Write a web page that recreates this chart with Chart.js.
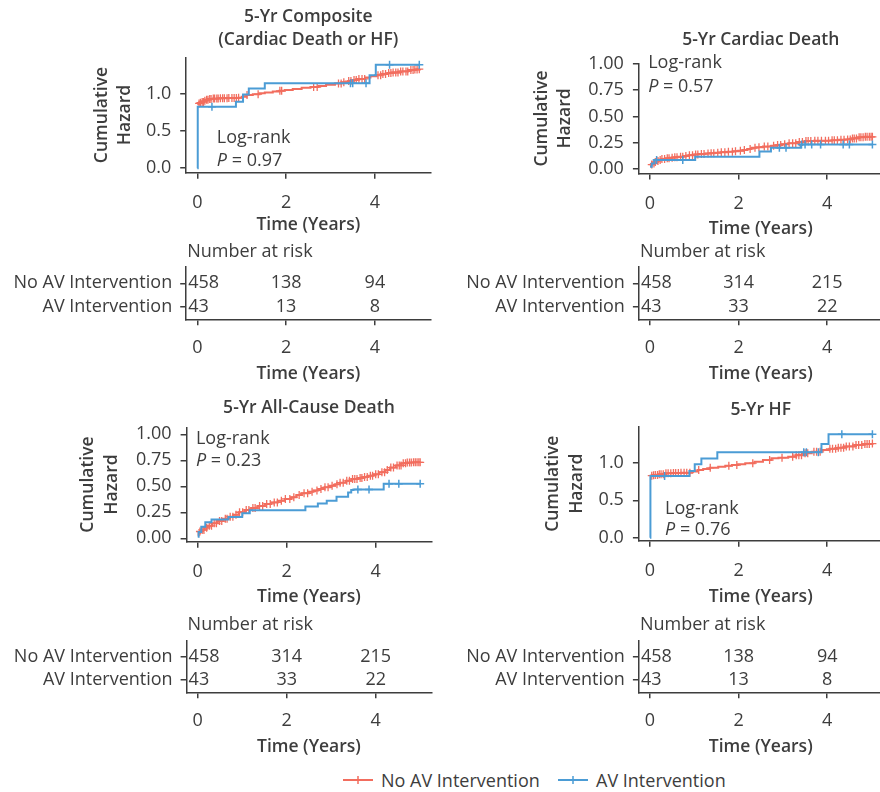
<!DOCTYPE html>
<html>
<head>
<meta charset="utf-8">
<script src="https://cdn.jsdelivr.net/npm/chart.js@4.4.1/dist/chart.umd.min.js"></script>
<style>
  html, body { margin: 0; padding: 0; background: #fff; overflow: hidden; }
  body { width: 880px; height: 792px; position: relative; font-family: 'Open Sans', sans-serif; color: #3d3d3d; }
  canvas { position: absolute; }
  .key { position: absolute; top: 768px; font-size: 18px; line-height: 24px; white-space: nowrap; }
  .key svg { position: absolute; left: 0; top: 6px; }
  .key span { position: absolute; left: 38px; top: 0; }
</style>
</head>
<body>
<canvas id="hz1" width="440" height="244" style="left:0;top:0"></canvas>
<canvas id="hz2" width="460" height="244" style="left:440px;top:0"></canvas>
<canvas id="rk1" width="440" height="153" style="left:0;top:235px"></canvas>
<canvas id="rk2" width="460" height="153" style="left:440px;top:235px"></canvas>
<canvas id="hz3" width="440" height="244" style="left:0;top:370px"></canvas>
<canvas id="hz4" width="460" height="244" style="left:440px;top:370px"></canvas>
<canvas id="rk3" width="440" height="153" style="left:0;top:608px"></canvas>
<canvas id="rk4" width="460" height="153" style="left:440px;top:608px"></canvas>

<div class="key" style="left:343px;width:200px">
  <svg width="30" height="12"><line x1="0" y1="6" x2="30" y2="6" stroke="#f26d5e" stroke-width="2"/><line x1="15" y1="2" x2="15" y2="10" stroke="#f26d5e" stroke-width="1.5"/></svg>
  <span>No AV Intervention</span>
</div>
<div class="key" style="left:558px;width:200px">
  <svg width="30" height="12"><line x1="0" y1="6" x2="30" y2="6" stroke="#4b9cd5" stroke-width="2"/><line x1="15" y1="2" x2="15" y2="10" stroke="#4b9cd5" stroke-width="1.5"/></svg>
  <span>AV Intervention</span>
</div>

<script>
const RED = '#f26d5e';
const BLUE = '#4b9cd5';
const INK = '#3d3d3d';
const FONT = "'Open Sans', sans-serif";

const xTicks = [0, 2, 4];
const riskTimes = [0, 2, 4];
const riskRows = ['AV Intervention', 'No AV Intervention'];

// 5-Yr Composite (Cardiac Death or HF)
const compTimesNo = [0, 0.03, 0.06, 0.1, 0.15, 0.2, 0.25, 0.35, 0.5, 0.7, 0.92, 1.0, 1.11, 1.25, 1.4, 1.52, 1.7, 1.85, 1.97, 2.15, 2.35, 2.55, 2.73, 2.9, 3.1, 3.25, 3.4, 3.48, 3.6, 3.78, 3.9, 4.04, 4.15, 4.28, 4.38, 4.55, 4.75, 4.9, 5.0];
const compHazNo = [0.86, 0.87, 0.88, 0.89, 0.905, 0.92, 0.93, 0.935, 0.94, 0.943, 0.947, 0.96, 0.983, 0.995, 1.008, 1.018, 1.03, 1.04, 1.05, 1.065, 1.08, 1.09, 1.103, 1.12, 1.139, 1.155, 1.17, 1.184, 1.2, 1.22, 1.235, 1.25, 1.265, 1.278, 1.286, 1.3, 1.318, 1.325, 1.33];
const compCensNo = [0.04, 0.07, 0.11, 0.14, 0.17, 0.21, 0.24, 0.28, 0.31, 0.36, 0.39, 0.44, 0.47, 0.52, 0.57, 0.61, 0.67, 0.71, 0.78, 0.83, 0.88, 0.93, 1.12, 1.37, 1.86, 1.9, 2.62, 2.7, 3.18, 3.24, 3.3, 3.41, 3.46, 3.53, 3.58, 3.64, 3.71, 3.77, 4.07, 4.13, 4.18, 4.24, 4.31, 4.36, 4.41, 4.47, 4.52, 4.58, 4.63, 4.7, 4.74, 4.81, 4.86, 4.9, 4.95, 5.0];
const compTimesAV = [0, 0.01, 0.87, 1.03, 1.16, 1.52, 3.88, 4.02, 5.0];
const compHazAV = [0, 0.826, 0.893, 0.99, 1.07, 1.14, 1.25, 1.39, 1.39];
const compCensAV = [0.33, 3.45, 3.5, 3.8, 4.33, 5.0];
const riskCompNo = [458, 138, 94];
const riskCompAV = [43, 13, 8];

// 5-Yr Cardiac Death
const cardTimesNo = [0, 0.02, 0.05, 0.1, 0.15, 0.2, 0.26, 0.35, 0.45, 0.55, 0.63, 0.75, 0.87, 1.0, 1.1, 1.25, 1.35, 1.46, 1.6, 1.75, 1.88, 1.99, 2.1, 2.2, 2.29, 2.4, 2.55, 2.74, 2.85, 2.98, 3.12, 3.3, 3.49, 3.7, 3.94, 4.1, 4.25, 4.4, 4.55, 4.7, 4.85, 5.02];
const cardHazNo = [0.03, 0.04, 0.05, 0.065, 0.075, 0.083, 0.093, 0.1, 0.105, 0.11, 0.115, 0.122, 0.13, 0.137, 0.142, 0.146, 0.149, 0.153, 0.158, 0.163, 0.168, 0.172, 0.18, 0.19, 0.2, 0.205, 0.212, 0.22, 0.228, 0.235, 0.243, 0.255, 0.265, 0.267, 0.268, 0.272, 0.276, 0.28, 0.29, 0.3, 0.305, 0.305];
const cardCensNo = [0.04, 0.09, 0.12, 0.18, 0.23, 0.27, 0.33, 0.39, 0.43, 0.5, 0.56, 0.61, 0.69, 0.74, 0.81, 0.89, 0.96, 1.03, 1.08, 1.16, 1.22, 1.31, 1.38, 1.44, 1.53, 1.61, 1.69, 1.77, 1.86, 1.93, 2.04, 2.13, 2.26, 2.37, 2.46, 2.58, 2.66, 2.79, 2.88, 2.95, 3.04, 3.14, 3.22, 3.29, 3.37, 3.44, 3.52, 3.57, 3.63, 3.72, 3.79, 3.87, 3.96, 4.03, 4.11, 4.16, 4.23, 4.31, 4.38, 4.46, 4.52, 4.57, 4.61, 4.66, 4.72, 4.76, 4.81, 4.86, 4.9, 4.95, 4.99, 5.02];
const cardTimesAV = [0, 0.04, 0.1, 1.02, 2.47, 2.73, 3.4, 5.02];
const cardHazAV = [0.02, 0.05, 0.083, 0.115, 0.165, 0.2, 0.233, 0.233];
const cardCensAV = [0.15, 0.74, 2.92, 3.07, 3.42, 3.5, 3.65, 3.85, 4.36, 4.5, 5.02];
const riskDeathNo = [458, 314, 215];
const riskDeathAV = [43, 33, 22];

// 5-Yr All-Cause Death
const allTimesNo = [0, 0.02, 0.05, 0.09, 0.15, 0.22, 0.32, 0.45, 0.58, 0.69, 0.8, 0.92, 1.06, 1.2, 1.35, 1.51, 1.65, 1.8, 1.96, 2.1, 2.22, 2.34, 2.5, 2.6, 2.71, 2.85, 2.97, 3.09, 3.2, 3.33, 3.46, 3.6, 3.72, 3.83, 3.95, 4.08, 4.21, 4.32, 4.45, 4.58, 4.7, 4.85, 5.0];
const allHazNo = [0.03, 0.05, 0.065, 0.08, 0.1, 0.12, 0.144, 0.165, 0.188, 0.208, 0.225, 0.25, 0.272, 0.29, 0.31, 0.33, 0.345, 0.36, 0.378, 0.395, 0.415, 0.433, 0.448, 0.46, 0.474, 0.49, 0.505, 0.519, 0.535, 0.552, 0.57, 0.58, 0.59, 0.602, 0.615, 0.635, 0.657, 0.68, 0.7, 0.721, 0.728, 0.73, 0.73];
const allCensNo = [0.05, 0.1, 0.14, 0.2, 0.26, 0.31, 0.37, 0.42, 0.49, 0.54, 0.62, 0.66, 0.73, 0.79, 0.86, 0.94, 1.01, 1.09, 1.15, 1.24, 1.29, 1.39, 1.46, 1.55, 1.63, 1.72, 1.79, 1.88, 1.97, 2.07, 2.16, 2.28, 2.39, 2.47, 2.57, 2.68, 2.77, 2.86, 2.93, 3.02, 3.13, 3.2, 3.27, 3.35, 3.41, 3.48, 3.53, 3.58, 3.65, 3.69, 3.75, 3.81, 3.88, 3.93, 4.0, 4.06, 4.14, 4.2, 4.26, 4.34, 4.4, 4.48, 4.53, 4.57, 4.62, 4.67, 4.71, 4.76, 4.8, 4.85, 4.89, 4.93, 4.97, 5.0];
const allTimesAV = [0, 0.02, 0.08, 0.17, 0.31, 0.69, 1.0, 1.17, 2.42, 2.7, 2.9, 3.12, 3.38, 3.45, 3.5, 4.18, 5.0];
const allHazAV = [0.015, 0.06, 0.11, 0.155, 0.18, 0.205, 0.24, 0.27, 0.305, 0.335, 0.36, 0.4, 0.44, 0.465, 0.47, 0.525, 0.525];
const allCensAV = [3.6, 3.85, 4.3, 4.52, 5.0];

// 5-Yr HF
const hfTimesNo = [0, 0.05, 0.1, 0.18, 0.33, 0.5, 0.7, 0.86, 0.95, 1.08, 1.2, 1.35, 1.54, 1.7, 1.85, 1.99, 2.15, 2.36, 2.55, 2.74, 2.9, 3.12, 3.3, 3.49, 3.65, 3.87, 4.05, 4.24, 4.4, 4.62, 4.8, 5.02];
const hfHazNo = [0.83, 0.835, 0.84, 0.848, 0.862, 0.865, 0.868, 0.87, 0.885, 0.906, 0.92, 0.935, 0.95, 0.962, 0.972, 0.982, 0.998, 1.017, 1.04, 1.062, 1.072, 1.084, 1.105, 1.13, 1.15, 1.174, 1.19, 1.205, 1.222, 1.241, 1.255, 1.26];
const hfCensNo = [0.04, 0.08, 0.12, 0.17, 0.21, 0.25, 0.3, 0.36, 0.41, 0.47, 0.53, 0.58, 0.64, 0.7, 0.77, 0.83, 0.9, 1.1, 1.36, 1.78, 1.96, 2.32, 2.7, 2.98, 3.22, 3.3, 3.36, 3.42, 3.5, 3.56, 3.7, 3.76, 3.84, 4.06, 4.12, 4.19, 4.25, 4.31, 4.37, 4.43, 4.5, 4.58, 4.65, 4.71, 4.78, 4.85, 4.9, 4.95, 5.02];
const hfTimesAV = [0, 0.01, 0.89, 1.01, 1.16, 1.52, 3.87, 4.03, 5.02];
const hfHazAV = [0, 0.826, 0.893, 0.982, 1.06, 1.143, 1.254, 1.384, 1.384];
const hfCensAV = [0.33, 3.47, 3.53, 3.8, 4.33, 5.02];

function font(size, weight) {
    return { family: FONT, size: size, weight: weight || 'normal', lineHeight: 1.35 };
}

function steps(times, haz) {
    return times.map((t, i) => ({ x: t, y: haz[i] }));
}

// censor marks sit on the current step level
function marks(times, haz, cens) {
    return cens.map(t => {
        let v = haz[0];
        times.forEach((s, i) => { if (s <= t) v = haz[i]; });
        return { x: t, y: v };
    });
}

function fixTicks(list) {
    return scale => { scale.ticks = list.map(v => ({ value: v })); };
}

function hazardChart(id, p) {
    const canvas = document.getElementById(id);
    const W = canvas.width, H = canvas.height;

    const notes = {
        id: 'notes',
        afterDraw(chart) {
            const ctx = chart.ctx;
            const area = chart.chartArea;
            const xs = chart.scales.x, ys = chart.scales.y;
            ctx.save();
            ctx.fillStyle = INK;
            ctx.textAlign = 'center';
            ctx.textBaseline = 'middle';
            ctx.font = '600 17.5px ' + FONT;
            p.title.forEach((line, i) => {
                ctx.fillText(line, (area.left + area.right) / 2, p.titleY[i]);
            });
            ctx.textAlign = 'left';
            ctx.font = '18px ' + FONT;
            const lx = xs.getPixelForValue(p.noteX);
            ctx.fillText('Log-rank', lx, ys.getPixelForValue(p.noteY[0]));
            const py = ys.getPixelForValue(p.noteY[1]);
            ctx.font = 'italic 18px ' + FONT;
            ctx.fillText('P', lx, py);
            const w = ctx.measureText('P').width;
            ctx.font = '18px ' + FONT;
            ctx.fillText(' = ' + p.pValue, lx + w, py);
            ctx.restore();
        }
    };

    return new Chart(canvas, {
        type: 'line',
        data: {
            datasets: [
                { data: steps(p.avT, p.avH), borderColor: BLUE, borderWidth: 2, stepped: true, pointRadius: 0 },
                { data: marks(p.avT, p.avH, p.avC), showLine: false, pointStyle: 'cross', pointRadius: 4, borderColor: BLUE, borderWidth: 1.5 },
                { data: steps(p.noT, p.noH), borderColor: RED, borderWidth: 2, stepped: true, pointRadius: 0 },
                { data: marks(p.noT, p.noH, p.noC), showLine: false, pointStyle: 'cross', pointRadius: 4, borderColor: RED, borderWidth: 1.3 }
            ]
        },
        options: {
            responsive: false,
            animation: false,
            layout: { padding: { left: 0, top: p.area.top, right: W - p.area.right, bottom: 0 } },
            scales: {
                x: {
                    type: 'linear', min: -0.25, max: 5.25,
                    afterBuildTicks: fixTicks(xTicks),
                    afterFit: s => { s.height = H - p.area.bottom; },
                    border: { color: INK, width: 1.5 },
                    grid: { display: true, drawOnChartArea: false, drawTicks: true, tickLength: 6, color: INK, lineWidth: 1.5 },
                    ticks: { color: INK, font: font(18), padding: 12, maxRotation: 0, callback: v => String(v) },
                    title: { display: true, text: 'Time (Years)', color: INK, font: font(17.5, '600'), padding: { top: 0, bottom: p.xTitlePad } }
                },
                y: {
                    type: 'linear', min: p.yMin, max: p.yMax,
                    afterBuildTicks: fixTicks(p.yTicks),
                    afterFit: s => { s.width = p.area.left; },
                    border: { color: INK, width: 1.5 },
                    grid: { display: true, drawOnChartArea: false, drawTicks: true, tickLength: 6, color: INK, lineWidth: 1.5 },
                    ticks: { color: INK, font: font(18), padding: 9, callback: v => v.toFixed(p.yDec) },
                    title: { display: true, text: ['Cumulative', 'Hazard'], color: INK, font: font(17.5, '600'), padding: { top: p.yTitlePad, bottom: 0 } }
                }
            },
            plugins: { legend: { display: false }, tooltip: { enabled: false } }
        },
        plugins: [notes]
    });
}

function riskTable(id, p) {
    const canvas = document.getElementById(id);
    const W = canvas.width, H = canvas.height;

    const numbers = {
        id: 'numbers',
        afterDraw(chart) {
            const ctx = chart.ctx;
            const area = chart.chartArea;
            const xs = chart.scales.x, ys = chart.scales.y;
            ctx.save();
            ctx.fillStyle = INK;
            ctx.font = '18px ' + FONT;
            ctx.textBaseline = 'middle';
            ctx.textAlign = 'left';
            ctx.fillText('Number at risk', area.left + 1, area.top - 15);
            [p.av, p.no].forEach((row, r) => {
                const y = ys.getPixelForValue(r);
                row.forEach((n, i) => {
                    const label = String(n);
                    const w = ctx.measureText(label).width;
                    const x = Math.max(area.left + 2, xs.getPixelForValue(riskTimes[i]) - w / 2);
                    ctx.fillText(label, x, y);
                });
            });
            ctx.restore();
        }
    };

    return new Chart(canvas, {
        type: 'scatter',
        data: { datasets: [] },
        options: {
            responsive: false,
            animation: false,
            layout: { padding: { left: 0, top: p.area.top, right: W - p.area.right, bottom: 0 } },
            scales: {
                x: {
                    type: 'linear', min: -0.25, max: 5.25,
                    afterBuildTicks: fixTicks(xTicks),
                    afterFit: s => { s.height = H - p.area.bottom; },
                    border: { color: INK, width: 1.5 },
                    grid: { display: true, drawOnChartArea: false, drawTicks: true, tickLength: 6, color: INK, lineWidth: 1.5 },
                    ticks: { color: INK, font: font(18), padding: 10, maxRotation: 0, callback: v => String(v) },
                    title: { display: true, text: 'Time (Years)', color: INK, font: font(17.5, '600'), padding: { top: 0, bottom: 2 } }
                },
                y: {
                    type: 'linear', min: -0.54, max: 1.71,
                    afterBuildTicks: fixTicks([0, 1]),
                    afterFit: s => { s.width = p.area.left; },
                    border: { color: INK, width: 1.5 },
                    grid: { display: true, drawOnChartArea: false, drawTicks: true, tickLength: 6, color: INK, lineWidth: 1.5 },
                    ticks: { color: INK, font: font(18), padding: 8, callback: v => riskRows[v] }
                }
            },
            plugins: { legend: { display: false }, tooltip: { enabled: false } }
        },
        plugins: [numbers]
    });
}

hazardChart('hz1', {
    noT: compTimesNo, noH: compHazNo, noC: compCensNo,
    avT: compTimesAV, avH: compHazAV, avC: compCensAV,
    yMin: -0.06, yMax: 1.49, yTicks: [0, 0.5, 1.0], yDec: 1,
    area: { left: 186.2, top: 57.3, right: 430.4, bottom: 172.7 },
    title: ['5-Yr Composite', '(Cardiac Death or HF)'], titleY: [17, 40],
    noteX: 0.44, noteY: [0.41, 0.1], pValue: '0.97',
    xTitlePad: 7.3, yTitlePad: 89.8
});

hazardChart('hz2', {
    noT: cardTimesNo, noH: cardHazNo, noC: cardCensNo,
    avT: cardTimesAV, avH: cardHazAV, avC: cardCensAV,
    yMin: -0.044, yMax: 1.005, yTicks: [0, 0.25, 0.5, 0.75, 1.0], yDec: 2,
    area: { left: 198.9, top: 63.5, right: 442.6, bottom: 173.4 },
    title: ['5-Yr Cardiac Death'], titleY: [40],
    noteX: -0.04, noteY: [1.007, 0.783], pValue: '0.57',
    xTitlePad: 3.6, yTitlePad: 89.8
});

hazardChart('hz3', {
    noT: allTimesNo, noH: allHazNo, noC: allCensNo,
    avT: allTimesAV, avH: allHazAV, avC: allCensAV,
    yMin: -0.033, yMax: 1.067, yTicks: [0, 0.25, 0.5, 0.75, 1.0], yDec: 2,
    area: { left: 186.6, top: 57.3, right: 431.3, bottom: 171.7 },
    title: ['5-Yr All-Cause Death'], titleY: [38.3],
    noteX: -0.04, noteY: [0.96, 0.746], pValue: '0.23',
    xTitlePad: 5.3, yTitlePad: 76.4
});

hazardChart('hz4', {
    noT: hfTimesNo, noH: hfHazNo, noC: hfCensNo,
    avT: hfTimesAV, avH: hfHazAV, avC: hfCensAV,
    yMin: -0.04, yMax: 1.486, yTicks: [0, 0.5, 1.0], yDec: 1,
    area: { left: 198.9, top: 56.7, right: 442.6, bottom: 170.7 },
    title: ['5-Yr HF'], titleY: [40],
    noteX: 0.34, noteY: [0.39, 0.1], pValue: '0.76',
    xTitlePad: 5.3, yTitlePad: 101.4
});

riskTable('rk1', { no: riskCompNo, av: riskCompAV, area: { left: 186.2, top: 31.7, right: 430.4, bottom: 84.3 } });
riskTable('rk2', { no: riskDeathNo, av: riskDeathAV, area: { left: 198.9, top: 31.7, right: 442.6, bottom: 84.3 } });
riskTable('rk3', { no: riskDeathNo, av: riskDeathAV, area: { left: 186.6, top: 32.3, right: 431.3, bottom: 84.3 } });
riskTable('rk4', { no: riskCompNo, av: riskCompAV, area: { left: 198.9, top: 32.3, right: 442.6, bottom: 84.3 } });
</script>
</body>
</html>
